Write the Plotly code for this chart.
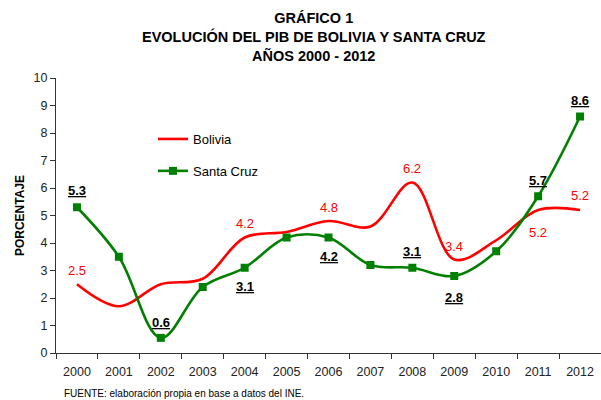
import plotly.graph_objects as go

years = ["2000", "2001", "2002", "2003", "2004", "2005", "2006",
         "2007", "2008", "2009", "2010", "2011", "2012"]
bolivia = [2.5, 1.7, 2.5, 2.7, 4.2, 4.4, 4.8, 4.6, 6.2, 3.4, 4.1, 5.2, 5.2]
santa_cruz = [5.3, 3.5, 0.55, 2.4, 3.1, 4.2, 4.2, 3.2, 3.1, 2.8, 3.7, 5.7, 8.6]

# which points get a data label, and pixel offset (style only)
bol_labels = {0: 14, 4: 14, 6: 14, 8: 14, 9: 13, 11: -22, 12: 15}
sc_labels = {0: 17, 2: 15, 4: -19, 6: -19, 8: 16, 9: -21, 11: 16, 12: 16}
sc_label_text = {2: "0.6"}

FONT = "Liberation Sans, Arial, sans-serif"
RED = "#ff0000"
GREEN = "#008000"
W, H = 601, 400
plot_l, plot_r, plot_t, plot_b = 56, 0, 78, 47
plot_w, plot_h = W - plot_l - plot_r, H - plot_t - plot_b

fig = go.Figure()
fig.add_trace(go.Scatter(
    x=years, y=bolivia, name="Bolivia", mode="lines",
    line=dict(color=RED, width=2.6, shape="spline", smoothing=1.0),
    legendgroup="a"))
fig.add_trace(go.Scatter(
    x=years, y=santa_cruz, name="Santa Cruz", mode="lines+markers",
    line=dict(color=GREEN, width=2.6, shape="spline", smoothing=1.0),
    marker=dict(symbol="square", size=8, color=GREEN),
    legendgroup="b"))

annotations = []
for i, dy in bol_labels.items():
    annotations.append(dict(
        x=i, y=bolivia[i], xref="x", yref="y",
        text=f"{bolivia[i]:.1f}", showarrow=False, yshift=dy,
        font=dict(family=FONT, size=13, color=RED)))
for i, dy in sc_labels.items():
    txt = sc_label_text.get(i, f"{santa_cruz[i]:.1f}")
    annotations.append(dict(
        x=i, y=santa_cruz[i], xref="x", yref="y",
        text=f"<b><u>{txt}</u></b>", showarrow=False, yshift=dy,
        font=dict(family=FONT, size=13, color="#000000")))

# footnote
annotations.append(dict(
    x=(62 - plot_l) / plot_w, y=1 - (393 - plot_t) / plot_h,
    xref="paper", yref="paper", xanchor="left", yanchor="middle",
    text="FUENTE: elaboración propia en base a datos del INE.",
    showarrow=False, font=dict(family=FONT, size=10, color="#000000")))

# title (three lines)
annotations.append(dict(
    x=(314 - plot_l) / plot_w, y=1 + (plot_t - 37) / plot_h,
    xref="paper", yref="paper", xanchor="center", yanchor="middle",
    text="<b>GRÁFICO 1<br>EVOLUCIÓN DEL PIB DE BOLIVIA Y SANTA CRUZ<br>AÑOS 2000 - 2012</b>",
    showarrow=False, font=dict(family=FONT, size=14.5, color="#000000")))

fig.update_layout(
    width=W, height=H,
    margin=dict(l=plot_l, r=plot_r, t=plot_t, b=plot_b),
    paper_bgcolor="white", plot_bgcolor="white",
    font=dict(family=FONT, size=13, color="#222222"),
    annotations=annotations,
    showlegend=True,
    legend=dict(x=(153 - plot_l) / plot_w, y=1 - (124 - plot_t) / plot_h,
                xanchor="left", yanchor="top", bgcolor="rgba(0,0,0,0)",
                font=dict(family=FONT, size=13, color="#000000"),
                tracegroupgap=12, itemwidth=30),
    xaxis=dict(type="category", range=[-0.5, 12.5], showline=True, linecolor="#333333",
               linewidth=1, ticks="outside", tickson="boundaries", ticklen=5,
               tickcolor="#333333", showgrid=False, zeroline=False,
               ticklabelstandoff=7, automargin=False,
               tickfont=dict(family=FONT, size=12.5, color="#222222")),
    yaxis=dict(range=[0, 10], dtick=1, showline=True, linecolor="#333333", linewidth=1,
               ticks="outside", ticklen=5, tickcolor="#333333", showgrid=False,
               zeroline=False, automargin=False,
               tickfont=dict(family=FONT, size=12.5, color="#222222"),
               title=dict(text="<b>PORCENTAJE</b>", standoff=6,
                          font=dict(family=FONT, size=12, color="#000000"))),
)

fig.write_html("out.html", config={"displayModeBar": False},
               post_script="document.body.style.margin='0';")
